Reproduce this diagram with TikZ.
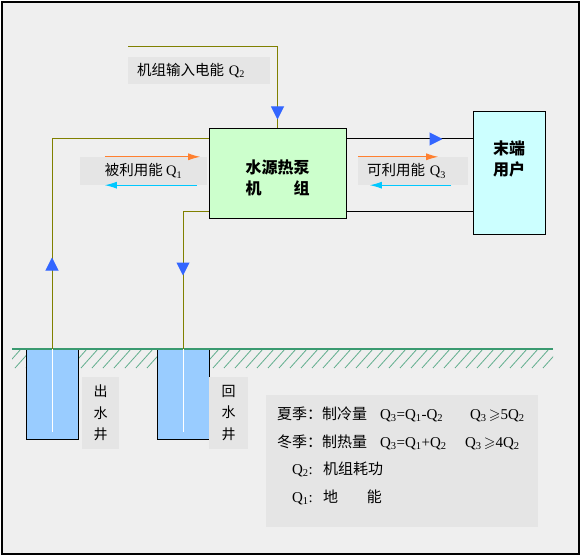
\documentclass[tikz,border=0pt]{standalone}
\usepackage{amssymb}
\usepackage{fontspec}
\setmainfont{Liberation Serif}
\newfontfamily\cjk{Noto Sans CJK SC}
\usepackage{tikz}
\usetikzlibrary{arrows.meta, positioning, decorations.markings}

\definecolor{bggray}{HTML}{EFEFEF}
\definecolor{labgray}{HTML}{E5E5E5}
\definecolor{pipeolive}{HTML}{808000}
\definecolor{pumpgreen}{HTML}{CCFFCC}
\definecolor{usercyan}{HTML}{CCFFFF}
\definecolor{wellblue}{HTML}{99CCFF}
\definecolor{groundgreen}{HTML}{3A9A70}
\definecolor{flowblue}{HTML}{3366FF}
\definecolor{heatorange}{HTML}{FF8030}
\definecolor{coolcyan}{HTML}{00C8FF}

\newcommand{\Qs}[1]{Q\textsubscript{#1}}

\begin{document}
\begin{tikzpicture}[x=1pt, y=-1pt,
    box/.style={rectangle, draw=black, line width=1pt, align=center, font=\cjk\bfseries\fontsize{16}{21}\selectfont},
    labelbox/.style={rectangle, fill=labgray, inner sep=0pt, font=\cjk\fontsize{14.5}{16}\selectfont},
    well/.style={rectangle, draw=black, line width=1pt, fill=wellblue, minimum width=52pt, minimum height=90pt, inner sep=0pt},
    pipe/.style={draw=pipeolive, line width=1pt},
    link/.style={draw=black, line width=1pt},
    flow/.style={postaction={decorate}, decoration={markings, mark=at position #1 with {\arrow{Triangle[width=13pt,length=13pt,color=flowblue]}}}},
    heat/.style={-{Latex[length=12pt,width=7pt]}, draw=heatorange, line width=1pt},
    cool/.style={-{Latex[length=12pt,width=7pt]}, draw=coolcyan, line width=1pt},
    hatch/.style={draw=groundgreen!80, line width=0.8pt}
]
\useasboundingbox (0,0) rectangle (581,556);
\draw[line width=2pt, fill=bggray] (2,2) rectangle (579,554);

% ground
\begin{scope}
\clip (12,349) rectangle (553,368);
\foreach \x in {4,15,...,553} \draw[hatch] (\x,368) -- ++(17,-19);
\end{scope}
\node[well] (outwell) at (52,394) {};
\node[well] (inwell) at (183,394) {};
\draw[groundgreen, line width=1.2pt] (12,349) -- (553,349);
\draw[white, line width=1pt] (outwell.north) -- ([yshift=8pt]outwell.south);
\draw[white, line width=1pt] (inwell.north) -- ([yshift=8pt]inwell.south);

% units
\node[box, fill=pumpgreen, minimum width=137pt, minimum height=90pt] (pump) at (277.5,174) {};
\node[box, draw=none, yshift=-4pt] (pumptext) at (pump.center) {水源热泵\\机　　组};
\node[box, fill=usercyan, minimum width=72pt, minimum height=123pt] (user) at (509,173.5) {};
\node[box, draw=none, below=25pt of user.north] (usertext) {末端\\用户};

\coordinate (elecin) at (128,47);
\coordinate (pumpin) at ([yshift=35pt]pump.west);
\coordinate (pumpret) at ([yshift=-38pt]pump.west);
\coordinate (pumpout) at ([yshift=35pt]pump.east);
\coordinate (pumpback) at ([yshift=-38pt]pump.east);

\draw[pipe, flow=222pt] (elecin) -| (pump.north);
\draw[pipe, flow=91pt] (outwell.north) |- (pumpin);
\draw[pipe, flow=89pt] (pumpret) -| (inwell.north);
\draw[link, flow=96pt] (pumpout) -- (pumpout -| user.west);
\draw[link] (pumpback) -- (pumpback -| user.west);

% labels
\node[labelbox, minimum width=142pt, minimum height=27pt, text width=124pt, inner xsep=9pt, align=left] (q2lab) at (199,70.5) {机组输入电能 {\rmfamily\Qs{2}}};
\node[labelbox, minimum width=127pt, minimum height=28pt, align=center] (q1lab) at (143.5,171) {被利用能 {\rmfamily\Qs{1}}};
\node[labelbox, minimum width=110pt, minimum height=28pt, text width=92pt, inner xsep=9pt, align=left] (q3lab) at (413,171) {可利用能 {\rmfamily\Qs{3}}};

\draw[heat] ([xshift=25pt]q1lab.north west) -- ([xshift=-7pt]q1lab.north east);
\draw[cool] ([xshift=-10pt]q1lab.south east) -- ([xshift=25pt]q1lab.south west);
\draw[heat] (q3lab.north west) -- ([xshift=-30pt]q3lab.north east);
\draw[cool] ([xshift=-17pt]q3lab.south east) -- ([xshift=12pt]q3lab.south west);

\node[labelbox, minimum width=37pt, minimum height=72pt, align=center, font=\cjk\fontsize{14}{21.5}\selectfont] (outlab) at (100.5,413) {出\\水\\井};
\node[labelbox, minimum width=39pt, minimum height=72pt, align=center, font=\cjk\fontsize{14}{21.5}\selectfont] (inlab) at (228.5,413) {回\\水\\井};

\node[labelbox, minimum width=272pt, minimum height=132pt, text width=250pt, inner xsep=11pt, text depth=95pt, align=left, font=\cjk\fontsize{15}{27.5}\selectfont] (note) at (402,461) {%
\makebox[103pt][l]{夏季：制冷量}\makebox[90pt][l]{\rmfamily \Qs{3}=\Qs{1}-\Qs{2}}{\rmfamily\Qs{3}}$\,\geqslant${\rmfamily 5\Qs{2}}\\
\makebox[103pt][l]{冬季：制热量}\makebox[85pt][l]{\rmfamily \Qs{3}=\Qs{1}+\Qs{2}}{\rmfamily\Qs{3}}$\,\geqslant${\rmfamily 4\Qs{2}}\\
\hspace*{15pt}\makebox[31pt][l]{\rmfamily \Qs{2}:}机组耗功\\
\hspace*{15pt}\makebox[31pt][l]{\rmfamily \Qs{1}:}地\hspace{29pt}能};
\end{tikzpicture}
\end{document}
